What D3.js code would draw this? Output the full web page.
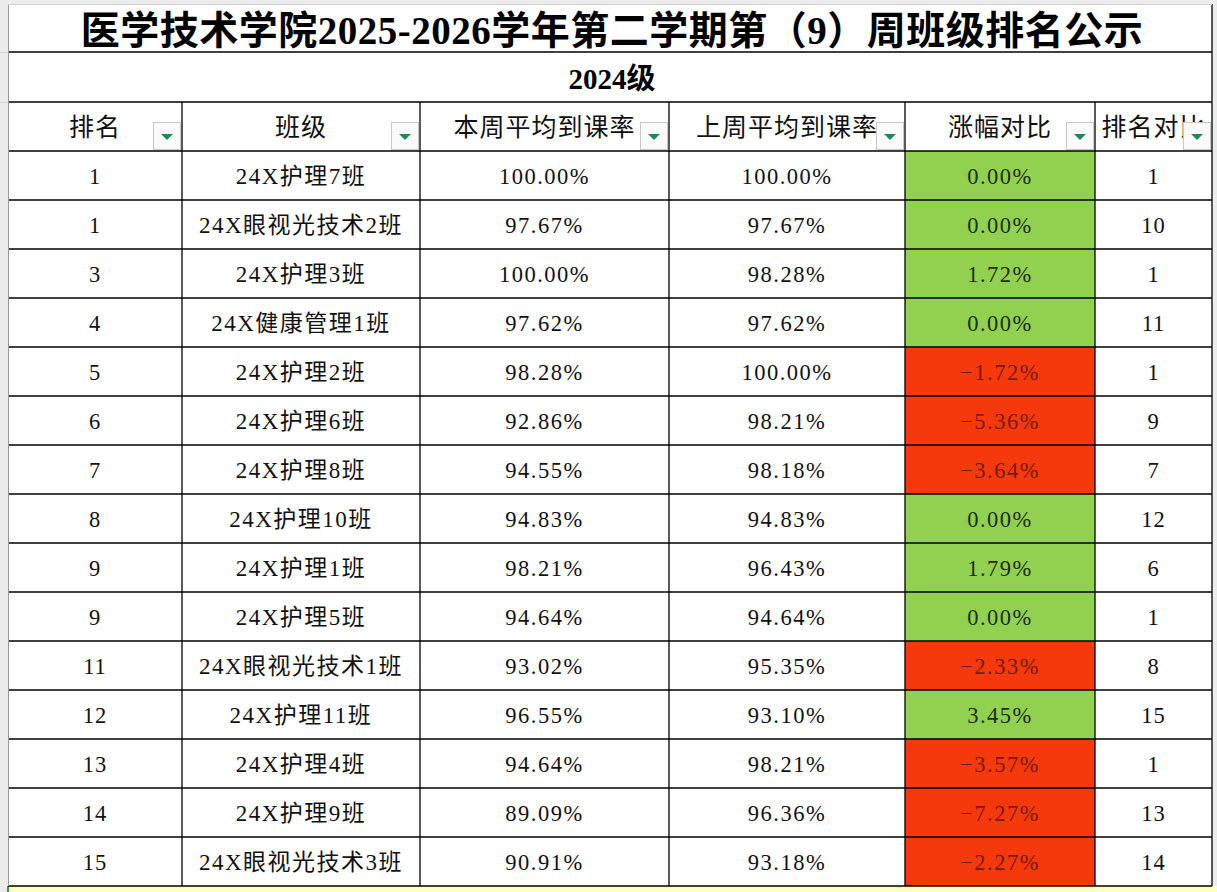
<!DOCTYPE html>
<html><head><meta charset="utf-8">
<script src="https://cdn.jsdelivr.net/npm/d3@7/dist/d3.min.js"></script>
<style>
html,body{margin:0;padding:0;background:#fff;overflow:hidden}
svg{display:block}
</style></head>
<body>
<svg id="chart" width="1217" height="892"></svg>
<script>
const title = "医学技术学院2025-2026学年第二学期第（9）周班级排名公示";
const subtitle = "2024级";
const headers = ["排名","班级","本周平均到课率","上周平均到课率","涨幅对比","排名对比"];
const ranks = [1,1,3,4,5,6,7,8,9,9,11,12,13,14,15];
const classes = ["24X护理7班","24X眼视光技术2班","24X护理3班","24X健康管理1班","24X护理2班","24X护理6班","24X护理8班","24X护理10班","24X护理1班","24X护理5班","24X眼视光技术1班","24X护理11班","24X护理4班","24X护理9班","24X眼视光技术3班"];
const thisWeek = [100.00,97.67,100.00,97.62,98.28,92.86,94.55,94.83,98.21,94.64,93.02,96.55,94.64,89.09,90.91];
const lastWeek = [100.00,97.67,98.28,97.62,100.00,98.21,98.18,94.83,96.43,94.64,95.35,93.10,98.21,96.36,93.18];
const changes = [0.00,0.00,1.72,0.00,-1.72,-5.36,-3.64,0.00,1.79,0.00,-2.33,3.45,-3.57,-7.27,-2.27];
const rankCompare = [1,10,1,11,1,9,7,12,6,1,8,15,1,13,14];

// layout
const colEdges = [8,182,420,669,905,1095,1212];
const titleTop = 4, titleBottom = 52, subBottom = 102, headBottom = 151, tableBottom = 886;
const serif = "'Liberation Serif','Noto Sans CJK SC',serif";

const svg = d3.select("#chart");
const W = 1217, H = 892;

// sheet background
svg.append("rect").attr("width",W).attr("height",H).attr("fill","#ececec");
svg.append("rect").attr("x",colEdges[0]).attr("y",titleTop).attr("width",colEdges[6]-colEdges[0]).attr("height",tableBottom-titleTop).attr("fill","#fff");
svg.append("rect").attr("x",colEdges[0]).attr("y",tableBottom).attr("width",W-colEdges[0]).attr("height",H-tableBottom).attr("fill","#ffffc4");
svg.append("line").attr("x1",colEdges[0]).attr("x2",colEdges[0]).attr("y1",tableBottom).attr("y2",H).attr("stroke","#3a9a4a").attr("stroke-width",2);
[titleBottom, subBottom].forEach(y=>svg.append("line").attr("x1",0).attr("x2",colEdges[0]).attr("y1",y+0.5).attr("y2",y+0.5).attr("stroke","#d4d4d4"));

const n = ranks.length;
const y = d3.scaleBand().domain(d3.range(n)).range([headBottom, tableBottom]).paddingInner(0).paddingOuter(0);

const f2 = d3.format(".2f");
const fmtPct = v => f2(v) + "%";
const rows = d3.range(n).map(i => [String(ranks[i]), classes[i], fmtPct(thisWeek[i]), fmtPct(lastWeek[i]), fmtPct(changes[i]), String(rankCompare[i])]);

// change cell colours
svg.append("g").selectAll("rect").data(changes).join("rect")
  .attr("x", colEdges[4]).attr("y",(d,i)=>y(i)).attr("width", colEdges[5]-colEdges[4]).attr("height", y.bandwidth())
  .attr("fill", d => d < 0 ? "#f5390c" : "#92d050");

// title
svg.append("text").attr("x", 612).attr("y", 30).attr("text-anchor","middle").attr("dominant-baseline","central")
  .attr("font-family", serif).attr("font-weight",600).attr("font-size", 39).attr("letter-spacing",0.5).attr("fill","#000").text(title);
svg.append("text").attr("x", 612).attr("y", 79).attr("text-anchor","middle").attr("dominant-baseline","central")
  .attr("font-family", serif).attr("font-weight","bold").attr("font-size", 29).attr("fill","#000").text(subtitle);

// headers
const hg = svg.append("g");
headers.forEach((h,j)=>{
  const cx = (colEdges[j]+colEdges[j+1])/2;
  hg.append("text").attr("x",cx).attr("y",(subBottom+headBottom)/2+1).attr("text-anchor","middle").attr("dominant-baseline","central")
    .attr("font-family",serif).attr("font-size",25).attr("letter-spacing",1).attr("fill","#111").text(h);
});
// filter buttons
headers.forEach((h,j)=>{
  const bx = colEdges[j+1]-29, by = headBottom-29;
  hg.append("rect").attr("x",bx+0.5).attr("y",by+0.5).attr("width",27).attr("height",27).attr("fill","#fafafa").attr("stroke","#c8c8c8");
  const cx = bx+14, cy = by+15;
  hg.append("path").attr("d",`M${cx-6},${cy-3}L${cx+6},${cy-3}L${cx},${cy+3}Z`).attr("fill","#1e8a5a");
});

// body
const bg = svg.append("g");
rows.forEach((r,i)=>{
  r.forEach((t,j)=>{
    const cx = (colEdges[j]+colEdges[j+1])/2;
    let fill = "#111";
    if (j===4) fill = changes[i] < 0 ? "#7a1a0a" : "#1c2e12";
    bg.append("text").attr("x",cx).attr("y",y(i)+y.bandwidth()/2+1).attr("text-anchor","middle").attr("dominant-baseline","central")
      .attr("font-family",serif).attr("font-size",j===1 ? 23 : 22.5).attr("letter-spacing", j===0||j===5 ? 1 : 1.5).attr("fill",fill).text(t);
  });
});

// grid lines
const lg = svg.append("g").attr("stroke","#000").attr("stroke-width",1.3);
[titleBottom, subBottom, headBottom].concat(d3.range(1,n+1).map(i=>y(i-1)+y.bandwidth())).forEach(yy=>{
  lg.append("line").attr("x1",colEdges[0]).attr("x2",colEdges[6]).attr("y1",yy).attr("y2",yy);
});
colEdges.slice(1,6).forEach(x=>{
  lg.append("line").attr("x1",x).attr("x2",x).attr("y1",subBottom).attr("y2",tableBottom);
});
lg.append("line").attr("x1",colEdges[6]).attr("x2",colEdges[6]).attr("y1",titleTop).attr("y2",tableBottom);
svg.append("line").attr("x1",colEdges[0]+0.5).attr("x2",colEdges[0]+0.5).attr("y1",titleTop).attr("y2",tableBottom).attr("stroke","#9a9a9a");
svg.append("line").attr("x1",colEdges[0]).attr("x2",colEdges[6]).attr("y1",titleTop+0.5).attr("y2",titleTop+0.5).attr("stroke","#d0d0d0");
</script>
</body></html>
